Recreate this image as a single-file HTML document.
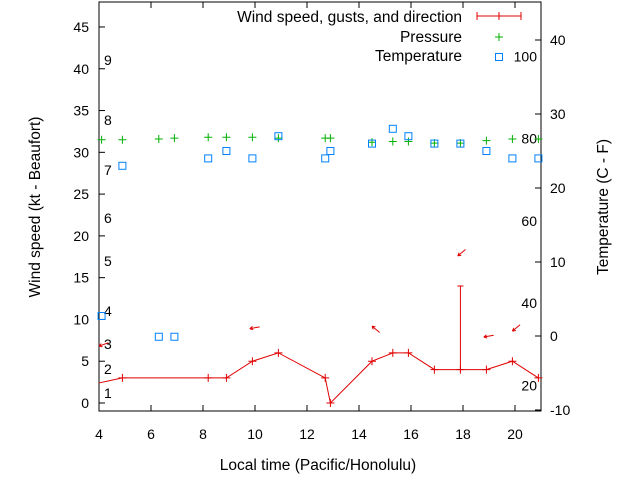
<!DOCTYPE html>
<html><head><meta charset="utf-8"><style>
body{margin:0;background:#fff}
svg text{font-family:"Liberation Sans",sans-serif;font-size:14px;fill:#000}
svg text.big{font-size:15.5px}
</style></head><body>
<svg width="640" height="480" xmlns="http://www.w3.org/2000/svg">
<g id="g"></g>
</svg>
<script>
const windHours=[4.0,4.9,8.2,8.9,9.9,10.9,12.7,12.9,14.5,15.3,15.9,16.9,17.9,18.9,19.9,20.9];
const windKt=[2.4,3,3,3,5,6,3,0,5,6,6,4,4,4,5,3];
const gustHours=[17.9];
const gustKt=[14];
const dirHours=[4.0,9.8,14.5,17.8,18.8,19.9];
const dirKt=[6.8,8.9,9.2,17.6,7.9,8.6];
const dirAngles=[200,190,140,220,190,220];
const presHours=[4.1,4.9,6.3,6.9,8.2,8.9,9.9,10.9,12.7,12.9,14.5,15.3,15.9,16.9,17.9,18.9,19.9,20.9];
const presVals=[31.5,31.5,31.6,31.7,31.8,31.8,31.8,31.7,31.7,31.7,31.2,31.3,31.3,31.1,31.1,31.4,31.6,31.6];
const tempHours=[4.1,4.9,6.3,6.9,8.2,8.9,9.9,10.9,12.7,12.9,14.5,15.3,15.9,16.9,17.9,18.9,19.9,20.9];
const tempC=[2.7,23,-0.1,-0.1,24,25,24,27,24,25,26,28,27,26,26,25,24,24];
const xTicks=[4,6,8,10,12,14,16,18,20];
const yTicks=[0,5,10,15,20,25,30,35,40,45];
const y2Ticks=[-10,0,10,20,30,40];
const beaufort=[[1,393],[2,369],[3,344],[4,311],[5,261],[6,218],[7,170],[8,120],[9,60]];
const fahr=[20,40,60,80,100];

const L=99,R=541,T=2,B=411;
const X=h=>L+(h-4)*(R-L)/17;
const Y=v=>403-v*8.356;
const Y2=c=>336-c*7.4;
const YF=f=>Y2((f-32)*5/9);
const g=document.getElementById('g');
const NS='http://www.w3.org/2000/svg';
function mk(t,a,txt){const e=document.createElementNS(NS,t);for(const k in a)e.setAttribute(k,a[k]);if(txt!==undefined)e.textContent=txt;g.appendChild(e);return e;}

let e=mk('rect',{x:L,y:T,width:R-L,height:B-T,fill:'none',stroke:'#000'});


xTicks.forEach(h=>{
 let t=mk('line',{x1:X(h),x2:X(h),y1:B,y2:B-6,stroke:'#000'});
 
 
 mk('line',{x1:X(h),x2:X(h),y1:T,y2:T+6,stroke:'#000'});
 let l=mk('text',{x:X(h),y:439,'text-anchor':'middle'},h);
 
 
});
yTicks.forEach(v=>{
 mk('line',{x1:L,x2:L+6,y1:Y(v),y2:Y(v),stroke:'#000'});
 let l=mk('text',{x:89,y:Y(v)+5,'text-anchor':'end'},v);
 
 
});
y2Ticks.forEach(v=>{
 mk('line',{x1:R,x2:R-6,y1:Y2(v),y2:Y2(v),stroke:'#000'});
 let l=mk('text',{x:550,y:Y2(v)+5},v);
 
 
});
beaufort.forEach(([n,y])=>{
 let l=mk('text',{x:104,y:y+5},n);
 
 
});
fahr.forEach(f=>{
 let l=mk('text',{x:537,y:YF(f)+5,'text-anchor':'end'},f);
 
 
});
e=mk('text',{x:318,y:470,'text-anchor':'middle',class:'big'},'Local time (Pacific/Honolulu)');


e=mk('text',{x:40,y:207,'text-anchor':'middle',class:'big',transform:'rotate(-90 40 207)'},'Wind speed (kt - Beaufort)');


e=mk('text',{x:608,y:207,'text-anchor':'middle',class:'big',transform:'rotate(-90 608 207)'},'Temperature (C - F)');



let pts=windHours.map((h,i)=>X(h)+','+Y(windKt[i])).join(' ');
e=mk('polyline',{points:pts,fill:'none',stroke:'#e00000'});


windHours.forEach((h,i)=>{
 if(i===0)return;
 let p=mk('path',{d:`M${X(h)-4},${Y(windKt[i])}h8M${X(h)},${Y(windKt[i])-4}v8`,stroke:'#e00000'});
 
 
});
gustHours.forEach((h,i)=>{
 const wi=windHours.indexOf(h);
 const base=wi>=0?windKt[wi]:0;
 let p=mk('path',{d:`M${X(h)},${Y(base)}V${Y(gustKt[i])}M${X(h)-3},${Y(gustKt[i])}h6`,stroke:'#e00000',fill:'none'});
 
 
});
dirHours.forEach((h,i)=>{
 const a=dirAngles[i]*Math.PI/180,x=X(h),y=Y(dirKt[i]);
 const x0=x-10*Math.cos(a),y0=y+10*Math.sin(a);
 const b1=a+0.5,b2=a-0.5;
 let p=mk('path',{d:`M${x0},${y0}L${x},${y}M${x},${y}l${-3.5*Math.cos(b1)},${3.5*Math.sin(b1)}M${x},${y}l${-3.5*Math.cos(b2)},${3.5*Math.sin(b2)}`,stroke:'#e00000',fill:'none'});
 
 
});
presHours.forEach((h,i)=>{
 let p=mk('path',{d:`M${X(h)-4},${Y(presVals[i])}h8M${X(h)},${Y(presVals[i])-4}v8`,stroke:'#00b000'});
 
 
});
tempHours.forEach((h,i)=>{
 let p=mk('rect',{x:X(h)-3.5,y:Y2(tempC[i])-3.5,width:7,height:7,fill:'none',stroke:'#0080ff'});
 
 
});

e=mk('text',{x:462,y:22,'text-anchor':'end',class:'big'},'Wind speed, gusts, and direction');


mk('path',{d:'M477,16h44M477,12v8M521,12v8M499,12v8',stroke:'#e00000'});
e=mk('text',{x:462,y:42,'text-anchor':'end',class:'big'},'Pressure');


mk('path',{d:'M495,37h8M499,33v8',stroke:'#00b000'});
e=mk('text',{x:462,y:61,'text-anchor':'end',class:'big'},'Temperature');


mk('rect',{x:495.5,y:53.5,width:7,height:7,fill:'none',stroke:'#0080ff'});
</script>
</body></html>
